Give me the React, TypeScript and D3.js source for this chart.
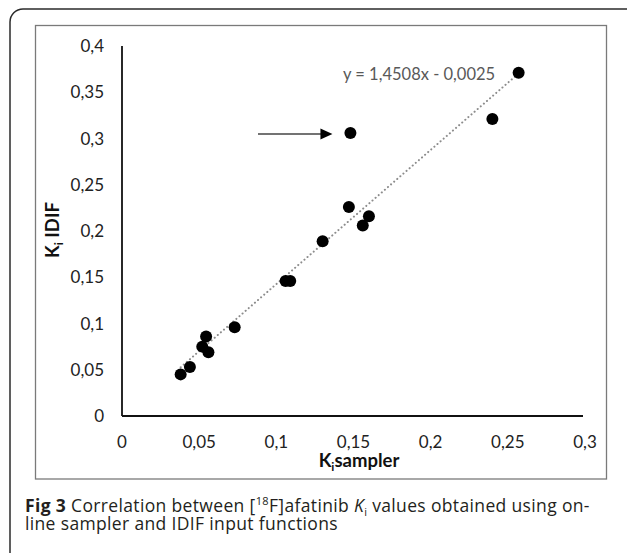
import * as d3 from "d3";

// values
const kiSampler = [0.038, 0.044, 0.052, 0.0545, 0.056, 0.073, 0.106, 0.109, 0.13, 0.147, 0.156, 0.16, 0.148, 0.24, 0.257];
const kiIdif = [0.045, 0.053, 0.075, 0.086, 0.069, 0.096, 0.146, 0.146, 0.189, 0.226, 0.206, 0.216, 0.306, 0.321, 0.371];
const xTicks = [0, 0.05, 0.1, 0.15, 0.2, 0.25, 0.3];
const yTicks = [0, 0.05, 0.1, 0.15, 0.2, 0.25, 0.3, 0.35, 0.4];
const slope = 1.4508;
const intercept = -0.0025;
const equation = "y = 1,4508x - 0,0025";
const outlier = { x: 0.148, y: 0.306 };

const W = 627;
const H = 553;
const chartFont = "Lato, 'Open Sans', sans-serif";
const captionFont = "'Open Sans', 'Noto Sans', sans-serif";

const fmt = (v: number) => String(v).replace(".", ",");

export default function App() {
  const x = d3.scaleLinear().domain([0, 0.3]).range([122, 585]);
  const y = d3.scaleLinear().domain([0, 0.4]).range([416, 46]);

  const [xMin, xMax] = d3.extent(kiSampler) as [number, number];
  const trend = d3
    .line<number>()
    .x((d) => x(d))
    .y((d) => y(slope * d + intercept));

  const arrowY = y(outlier.y) + 1;
  const arrowEnd = x(outlier.x) - 18;

  return (
    <svg
      width={W}
      height={H}
      style={{ position: "absolute", left: 0, top: 0, background: "#fff" }}
    >
      {/* outer rounded frame, runs off right and bottom edges */}
      <rect x={10} y={9} width={640} height={570} rx={13} fill="#fff" stroke="#2b2b2b" strokeWidth={1.5} />
      {/* chart area frame */}
      <rect x={35.5} y={25.5} width={571} height={453.5} fill="#fff" stroke="#7a7a7a" strokeWidth={1.3} />

      {/* axes */}
      <line x1={x(0)} x2={x(0)} y1={y(0.4)} y2={y(0)} stroke="#111" strokeWidth={1.8} />
      <line x1={x(0)} x2={x(0.3) - 2} y1={y(0)} y2={y(0)} stroke="#111" strokeWidth={1.8} />

      <g fontFamily={chartFont} fontSize={17} fill="#222">
        {yTicks.map((t) => (
          <text key={"y" + t} x={104} y={y(t) + 6} textAnchor="end">
            {fmt(t)}
          </text>
        ))}
        {xTicks.map((t) => (
          <text key={"x" + t} x={x(t)} y={448} textAnchor="middle">
            {fmt(t)}
          </text>
        ))}
      </g>

      {/* axis titles */}
      <text
        transform="translate(59,230) rotate(-90)"
        textAnchor="middle"
        fontFamily={chartFont}
        fontWeight="bold"
        fontSize={18.5}
        fill="#111"
      >
        K<tspan fontSize={12} dy={4}>i</tspan>
        <tspan dy={-4}> IDIF</tspan>
      </text>
      <text
        x={359}
        y={467}
        textAnchor="middle"
        fontFamily={chartFont}
        fontWeight="bold"
        fontSize={18.5}
        fill="#111"
      >
        K<tspan fontSize={12} dy={4}>i</tspan>
        <tspan dy={-4}>sampler</tspan>
      </text>

      {/* linear trendline */}
      <path
        d={trend([xMin, xMax]) || ""}
        fill="none"
        stroke="#8c8c8c"
        strokeWidth={2}
        strokeDasharray="0.1 4"
        strokeLinecap="round"
      />

      {/* points */}
      {kiSampler.map((v, i) => (
        <circle key={i} cx={x(v)} cy={y(kiIdif[i])} r={6} fill="#000" />
      ))}

      <text x={343} y={80} fontFamily={chartFont} fontSize={16.5} fill="#595959">
        {equation}
      </text>

      {/* arrow pointing at the outlier */}
      <line x1={258} x2={arrowEnd - 9} y1={arrowY} y2={arrowY} stroke="#444" strokeWidth={1.5} />
      <path
        d={`M${arrowEnd - 12},${arrowY - 5.5} L${arrowEnd},${arrowY} L${arrowEnd - 12},${arrowY + 5.5} Z`}
        fill="#000"
      />

      {/* caption */}
      <g fontFamily={captionFont} fontSize={17.5} fill="#231f20" letterSpacing={0.35}>
        <text x={25} y={511.5}>
          <tspan fontWeight="bold">Fig 3</tspan>
          <tspan> Correlation between [</tspan>
          <tspan fontSize={11} dy={-6.5}>18</tspan>
          <tspan dy={6.5}>F]afatinib </tspan>
          <tspan fontStyle="italic">K</tspan>
          <tspan fontSize={11} dy={4}>i</tspan>
          <tspan dy={-4}> values obtained using on-</tspan>
        </text>
        <text x={25} y={529.5}>
          line sampler and IDIF input functions
        </text>
      </g>
    </svg>
  );
}
